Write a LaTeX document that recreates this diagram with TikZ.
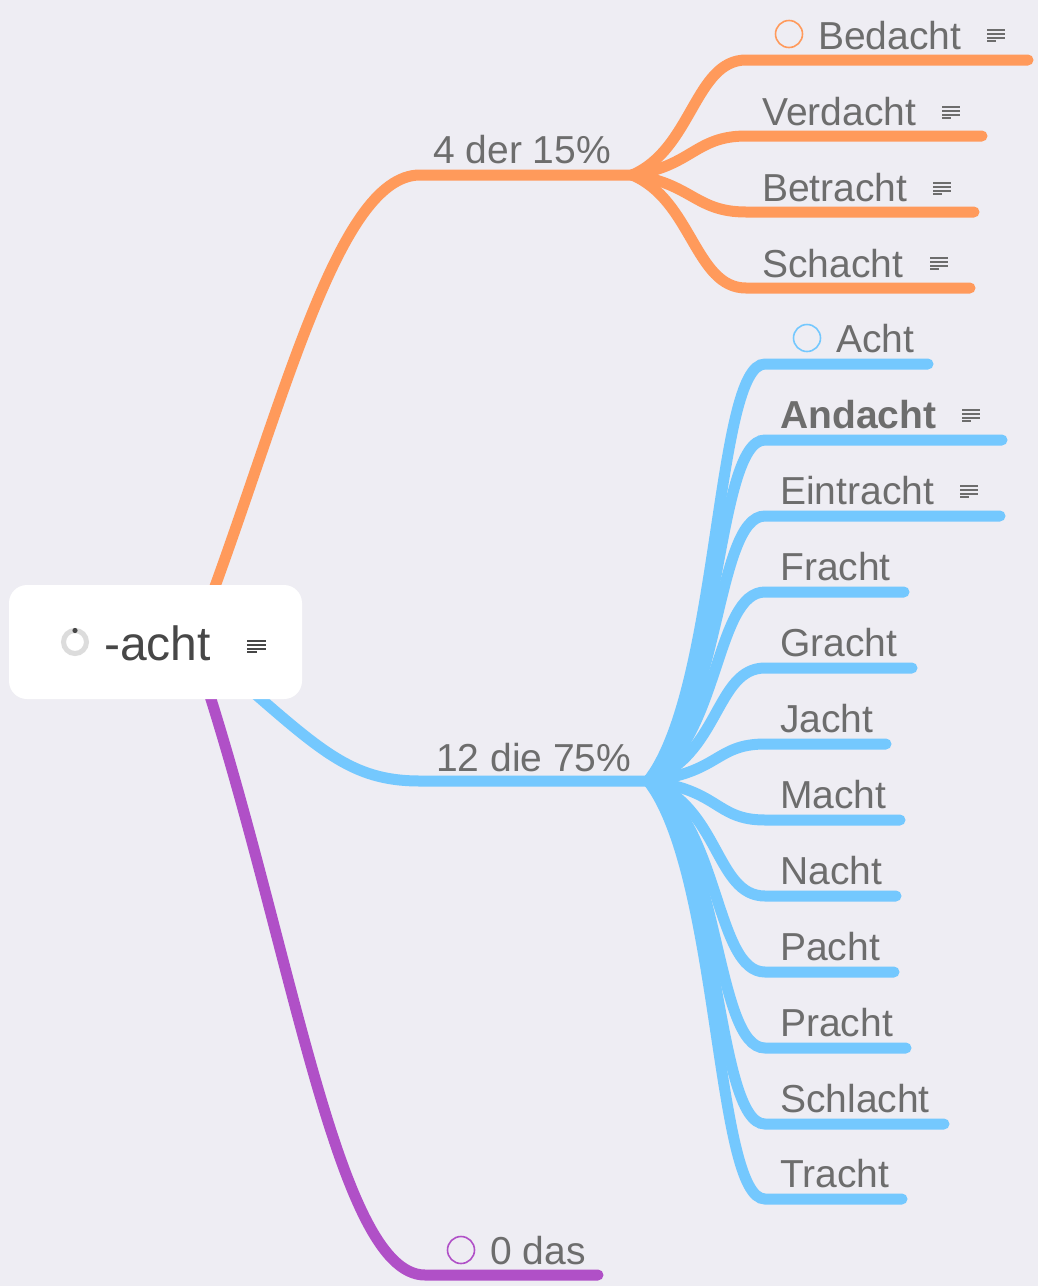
\documentclass[tikz,border=0pt]{standalone}
\usepackage{fontspec}
\setmainfont{Liberation Sans}
\definecolor{bgc}{HTML}{EEEDF3}
\definecolor{orangec}{HTML}{FF9A5B}
\definecolor{bluec}{HTML}{74C8FE}
\definecolor{purplec}{HTML}{B050C7}
\definecolor{txtc}{HTML}{6D6D6D}
\definecolor{roottxt}{HTML}{474747}
\definecolor{ringc}{HTML}{DCDCDC}
\begin{document}
\begin{tikzpicture}[x=0.75pt,y=-0.75pt,
  conn/.style={line width=8.25pt, line cap=round},
  ob/.style={conn, draw=orangec},
  bb/.style={conn, draw=bluec},
  pb/.style={conn, draw=purplec},
  lbl/.style={font=\fontsize{29.25}{35}\selectfont, text=txtc, inner sep=0pt, anchor=base west},
  mark circle/.style={line width=1.2pt, radius=13.5},
  iconline/.style={line width=1.4pt, draw=txtc},
  noteic/.pic={\draw[iconline]
     (0,0)--(18,0) (0,3.8)--(18,3.8) (0,7.6)--(18,7.6) (0,11.4)--(9,11.4);},
  rootnoteic/.pic={\draw[iconline, draw=roottxt]
     (0,0)--(19,0) (0,3.8)--(19,3.8) (0,7.6)--(19,7.6) (0,11.4)--(10,11.4);}]
\fill[bgc] (0,0) rectangle (1038,1286);
\useasboundingbox (0,0) rectangle (1038,1286);

% ---------- coordinates of branch connectors ----------
\coordinate (oR) at (195,640);
\coordinate (oS) at (420,175);
\coordinate (oH) at (632,175);
\coordinate (bR) at (230,672);
\coordinate (bS) at (420,781);
\coordinate (bH) at (648,781);
\coordinate (pR) at (195,650);
\coordinate (pS) at (425,1275);
\coordinate (pE) at (598,1275);

% main branches
\draw[ob] (oR) .. controls (280,420) and (335,175) .. (oS) -- (oH);
\draw[bb] (bR) .. controls (320,750) and (350,781) .. (bS) -- (bH);
\draw[pb] (pR) .. controls (290,930) and (335,1275) .. (pS) -- (pE);

% orange children
\foreach \n/\y/\e in {bed/60/1028, ver/136/982, bet/212/974, sch/288/970}{
  \coordinate (\n-s) at (746,\y);
  \coordinate (\n-e) at (\e,\y);
  \draw[ob] (oH) .. controls +(60,{0.22*(\y-175)}) and +(-51,0) .. (\n-s) -- (\n-e);
}
% blue children
\foreach \n/\y/\e in {acht/364/928, and/440/1002, ein/516/1000, fra/592/904, gra/668/912, jac/744/886, mac/820/900, nac/896/896, pac/972/894, pra/1048/906, schl/1124/944, tra/1199/902}{
  \coordinate (\n-s) at (765,\y);
  \coordinate (\n-e) at (\e,\y);
  \draw[bb] (bH) .. controls +(72,{0.22*(\y-781)}) and +(-50,0) .. (\n-s) -- (\n-e);
}

% ---------- root ----------
\node[fill=white, rounded corners=13.5pt, minimum width=219.75pt, minimum height=85.5pt, inner sep=0pt] (root) at (155.5,642) {};
\draw[ringc, line width=3.75pt] (75,642) circle[radius=11.5];
\fill[roottxt] (75,630.5) circle[radius=2.6];
\node[font=\fontsize{36}{42}\selectfont, text=roottxt, inner sep=0pt, anchor=base west] (roottext) at (104,660) {-acht};
\pic at (247,641) {rootnoteic};

% ---------- branch labels ----------
\node[lbl] (l15) at (433,163) {4 der 15\%};
\node[lbl] (l75) at (436,771) {12 die 75\%};
\draw[purplec, mark circle] (461,1250) circle;
\node[lbl] (l0) at (490,1264) {0 das};

% ---------- orange children ----------
\draw[orangec, mark circle] (789,34) circle;
\node[lbl] (bed) at (818,49) {Bedacht};
\pic at (987,30) {noteic};
\node[lbl] (ver) at (762,125) {Verdacht};
\pic at (942,107) {noteic};
\node[lbl] (bet) at (762,201) {Betracht};
\pic at (933,183) {noteic};
\node[lbl] (sch) at (762,277) {Schacht};
\pic at (930,258) {noteic};

% ---------- blue children ----------
\draw[bluec, mark circle] (807,338) circle;
\node[lbl] (acht) at (836,352.5) {Acht};
\node[lbl, font=\fontsize{29.25}{35}\selectfont\bfseries] (and) at (780,428.5) {Andacht};
\pic at (962,410) {noteic};
\node[lbl] (ein) at (780,504.5) {Eintracht};
\pic at (960,486) {noteic};
\node[lbl] (fra) at (780,580.5) {Fracht};
\node[lbl] (gra) at (780,656.5) {Gracht};
\node[lbl] (jac) at (780,732.5) {Jacht};
\node[lbl] (mac) at (780,808.5) {Macht};
\node[lbl] (nac) at (780,884.5) {Nacht};
\node[lbl] (pac) at (780,960.5) {Pacht};
\node[lbl] (pra) at (780,1036.5) {Pracht};
\node[lbl] (schl) at (780,1112.5) {Schlacht};
\node[lbl] (tra) at (780,1187.5) {Tracht};
\end{tikzpicture}
\end{document}
